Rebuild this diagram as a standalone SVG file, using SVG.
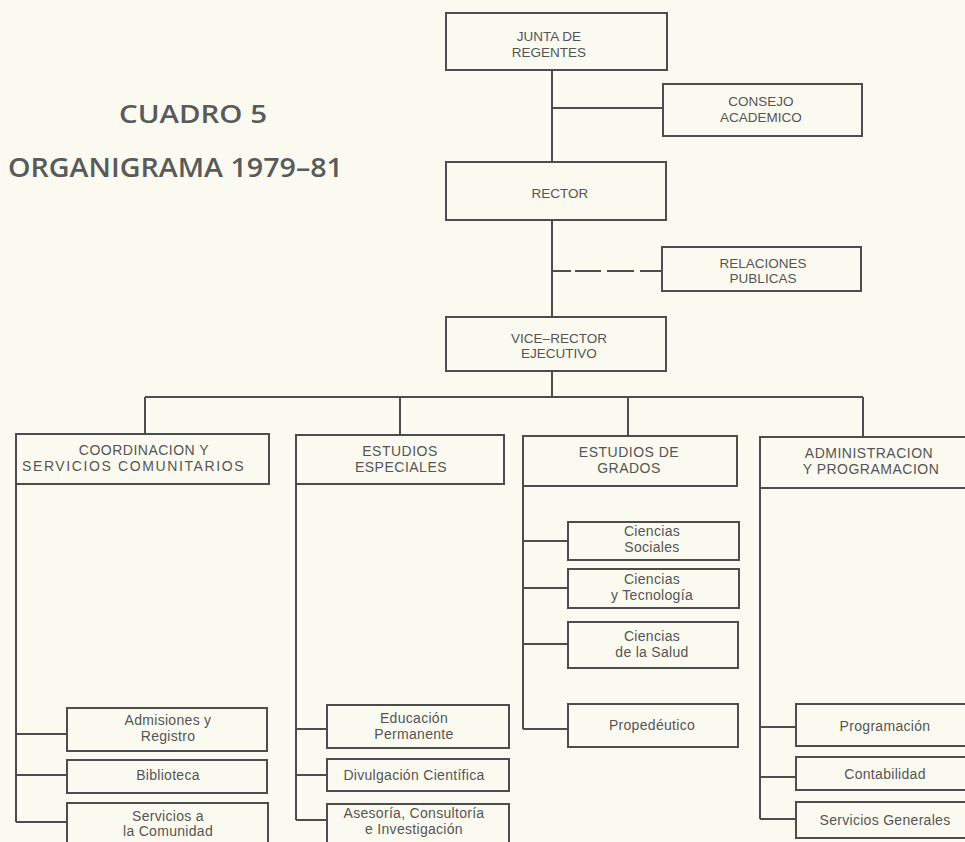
<svg xmlns="http://www.w3.org/2000/svg" width="965" height="842" viewBox="0 0 965 842">
<style>
.bg{fill:#fbfaf1}
.box{fill:#fbfaf1;stroke:#4d4d4d;stroke-width:2}
.ln{fill:none;stroke:#4d4d4d;stroke-width:2}
.title{font-family:"Open Sans","Liberation Sans",Arial,sans-serif;font-weight:600;fill:#5a5a5a}
.cap{font-family:"Liberation Sans",Arial,sans-serif;font-size:13.5px;fill:#555;text-anchor:middle}
.hd{font-family:"Liberation Sans",Arial,sans-serif;font-size:14px;fill:#555;text-anchor:middle;letter-spacing:0.5px}
.low{font-family:"Liberation Sans",Arial,sans-serif;font-size:14px;fill:#555;text-anchor:middle;letter-spacing:0.3px}
</style>
<rect class="bg" x="0" y="0" width="965" height="842"/>
<g id="title">
<text class="title" x="119" y="123" font-size="25" textLength="148" lengthAdjust="spacingAndGlyphs">CUADRO 5</text>
<text class="title" x="8" y="177" font-size="27" textLength="335" lengthAdjust="spacingAndGlyphs">ORGANIGRAMA 1979–81</text>
</g>
<g id="connectors">
<path class="ln" d="M552 70V397"/>
<path class="ln" d="M552 108H663"/>
<path class="ln" d="M552 271H571M575 271H601M607 271H634M640 271H662"/>
<path class="ln" d="M145 397H863M145 397V434M400 397V435M628 397V436M863 397V437"/>
<path class="ln" d="M16 484V822M16 734H67M16 775H67M16 822H67"/>
<path class="ln" d="M296 484V820M296 729H327M296 775H327M296 820H327"/>
<path class="ln" d="M523 486V729M523 541H568M523 588H568M523 644H568M523 729H568"/>
<path class="ln" d="M760 488V819M760 727H796M760 777H796M760 819H796"/>
</g>
<g id="junta"><rect class="box" x="446" y="13" width="221" height="57"/><text class="cap" x="549" y="41">JUNTA DE</text><text class="cap" x="549" y="57">REGENTES</text></g>
<g id="consejo"><rect class="box" x="663" y="84" width="199" height="52"/><text class="cap" x="761" y="106">CONSEJO</text><text class="cap" x="761" y="122">ACADEMICO</text></g>
<g id="rector"><rect class="box" x="446" y="162" width="220" height="58"/><text class="cap" x="560" y="198">RECTOR</text></g>
<g id="relaciones"><rect class="box" x="662" y="247" width="199" height="44"/><text class="cap" x="763" y="268">RELACIONES</text><text class="cap" x="763" y="283">PUBLICAS</text></g>
<g id="vicerrector"><rect class="box" x="446" y="317" width="220" height="54"/><text class="cap" x="559" y="343">VICE–RECTOR</text><text class="cap" x="559" y="358">EJECUTIVO</text></g>
<g id="coordinacion"><rect class="box" x="16" y="434" width="253" height="50"/><text class="hd" x="144" y="455">COORDINACION Y</text><text class="hd" x="133" y="471" textLength="222">SERVICIOS COMUNITARIOS</text></g>
<g id="estudios-especiales"><rect class="box" x="296" y="435" width="208" height="49"/><text class="hd" x="400" y="456">ESTUDIOS</text><text class="hd" x="401" y="472">ESPECIALES</text></g>
<g id="estudios-grados"><rect class="box" x="523" y="436" width="214" height="50"/><text class="hd" x="629" y="457">ESTUDIOS DE</text><text class="hd" x="629" y="473">GRADOS</text></g>
<g id="administracion"><rect class="box" x="760" y="437" width="215" height="51"/><text class="hd" x="869" y="458">ADMINISTRACION</text><text class="hd" x="871" y="474">Y PROGRAMACION</text></g>
<g id="admisiones"><rect class="box" x="67" y="708" width="200" height="43"/><text class="low" x="168" y="725">Admisiones y</text><text class="low" x="168" y="741">Registro</text></g>
<g id="biblioteca"><rect class="box" x="67" y="760" width="200" height="33"/><text class="low" x="168" y="780">Biblioteca</text></g>
<g id="servicios-comunidad"><rect class="box" x="67" y="803" width="201" height="50"/><text class="low" x="168" y="821">Servicios a</text><text class="low" x="168" y="836">la Comunidad</text></g>
<g id="educacion"><rect class="box" x="327" y="705" width="182" height="43"/><text class="low" x="414" y="723">Educación</text><text class="low" x="414" y="739">Permanente</text></g>
<g id="divulgacion"><rect class="box" x="327" y="759" width="182" height="32"/><text class="low" x="414" y="780">Divulgación Científica</text></g>
<g id="asesoria"><rect class="box" x="327" y="804" width="182" height="50"/><text class="low" x="414" y="818">Asesoría, Consultoría</text><text class="low" x="414" y="834">e Investigación</text></g>
<g id="ciencias-sociales"><rect class="box" x="568" y="522" width="171" height="38"/><text class="low" x="652" y="536">Ciencias</text><text class="low" x="652" y="552">Sociales</text></g>
<g id="ciencias-tecnologia"><rect class="box" x="568" y="569" width="171" height="39"/><text class="low" x="652" y="584">Ciencias</text><text class="low" x="652" y="600">y Tecnología</text></g>
<g id="ciencias-salud"><rect class="box" x="568" y="622" width="170" height="46"/><text class="low" x="652" y="641">Ciencias</text><text class="low" x="652" y="657">de la Salud</text></g>
<g id="propedeutico"><rect class="box" x="568" y="704" width="170" height="43"/><text class="low" x="652" y="730">Propedéutico</text></g>
<g id="programacion"><rect class="box" x="796" y="704" width="180" height="42"/><text class="low" x="885" y="731">Programación</text></g>
<g id="contabilidad"><rect class="box" x="796" y="757" width="180" height="33"/><text class="low" x="885" y="779">Contabilidad</text></g>
<g id="servicios-generales"><rect class="box" x="796" y="802" width="180" height="36"/><text class="low" x="885" y="825">Servicios Generales</text></g>
</svg>
